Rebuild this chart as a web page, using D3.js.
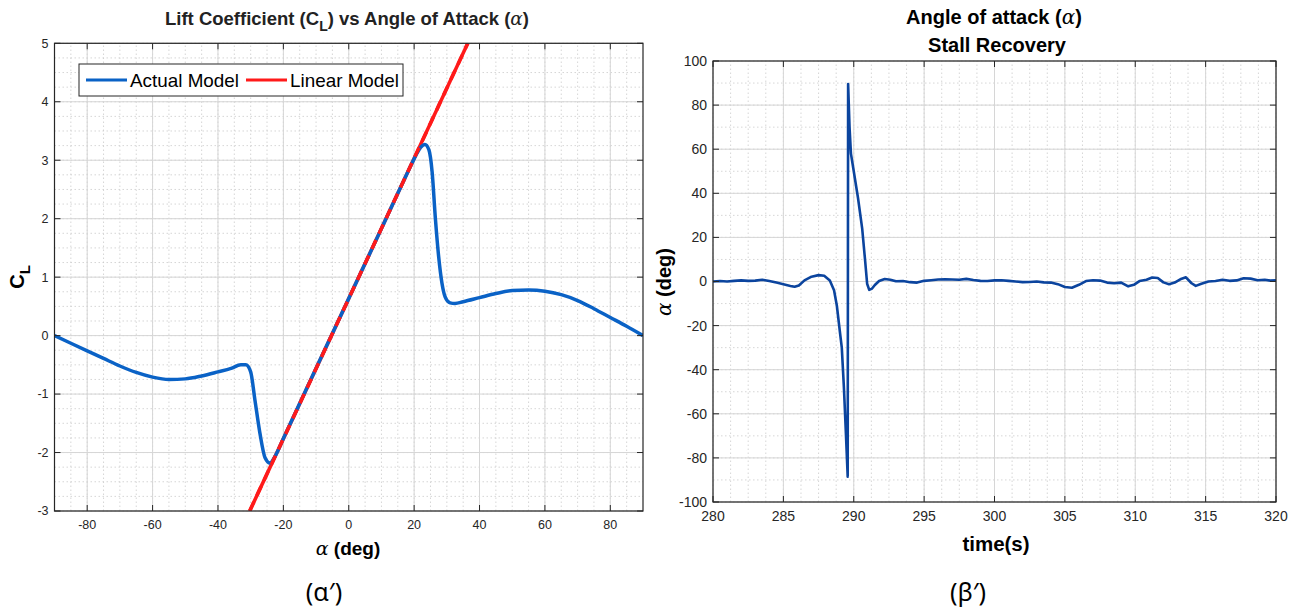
<!DOCTYPE html>
<html>
<head>
<meta charset="utf-8">
<script src="https://cdn.jsdelivr.net/npm/d3@7"></script>
<style>
  body { margin: 0; background: #fff; }
  svg { display: block; font-family: "Liberation Sans", Arial, sans-serif; }
  .grid-major { stroke: #d6d6d6; stroke-width: 1; }
  .grid-minor { stroke: #cccccc; stroke-width: 0.8; stroke-dasharray: 1.5,2.5; }
  .frame { fill: none; stroke: #262626; stroke-width: 1.2; }
  .tick-mark { stroke: #262626; stroke-width: 1; }
  .tick-label { fill: #262626; }
</style>
</head>
<body>
<svg width="1299" height="609"></svg>
<script>
// left chart: lift coefficient vs angle of attack
const alphaDeg = [-90, -85, -80, -75, -70, -65, -60, -55, -50, -45, -40, -36, -33, -31.5, -30, -28.7, -27.2, -25.6, -24.1, -22.5,
    -20, -10, 0, 10, 18, 20.5, 22, 23.3, 24.5, 25.5, 26.5, 27.5, 28.5, 29.5, 31, 32.5, 35, 40, 45, 50, 55, 60, 65, 70, 75, 80, 85, 90]
const clActual = [0, -0.13, -0.26, -0.39, -0.52, -0.63, -0.71, -0.75, -0.74, -0.69, -0.62, -0.56, -0.5, -0.5, -0.62, -1.1, -1.66, -2.09, -2.18, -2.06,
    -1.76, -0.56, 0.635, 1.83, 2.79, 3.08, 3.22, 3.27, 3.18, 2.8, 2.0, 1.35, 0.9, 0.66, 0.56, 0.55, 0.58, 0.65, 0.72, 0.77, 0.78, 0.76, 0.7, 0.6, 0.46, 0.31, 0.16, 0]
const linearAlpha = [-30.3, 36.4]
const linearCl = [-3, 5]
const legendLabels = ["Actual Model", "Linear Model"]

// right chart: angle of attack time history
const timeSec = [280, 280.5, 281, 281.5, 282, 282.5, 283, 283.5, 284, 284.5, 285, 285.5, 285.8, 286.1, 286.5, 287, 287.5, 287.9, 288.3, 288.6,
    288.8, 289, 289.15, 289.3, 289.45, 289.57, 289.6, 289.7, 289.8, 290, 290.3, 290.6, 290.8, 290.95, 291.1, 291.3, 291.5, 291.8, 292.2, 292.6,
    293, 293.5, 294, 294.5, 295, 295.5, 296, 296.5, 297, 297.5, 298, 298.5, 299, 299.5, 300, 300.5, 301, 301.5, 302, 302.5,
    303, 303.5, 304, 304.5, 305, 305.5, 306, 306.5, 307, 307.5, 308, 308.5, 309, 309.5, 309.9, 310.3, 310.8, 311.2, 311.6, 312,
    312.4, 312.8, 313.2, 313.6, 314, 314.3, 314.7, 315.2, 315.7, 316.2, 316.7, 317.2, 317.7, 318.2, 318.7, 319.2, 319.6, 320]
const aoaDeg = [0, 0.2, 0, 0.3, 0.5, 0.3, 0.4, 0.8, 0.2, -0.5, -1.2, -2, -2.4, -1.8, 0.5, 2.2, 2.9, 2.6, 0.5, -4,
    -11, -22, -30, -48, -70, -88.5, 89.5, 70, 58, 50, 38, 24, 10, -1, -3.8, -3.2, -1.6, 0.2, 1.1, 0.8,
    0.1, 0.2, -0.3, -0.5, 0.3, 0.6, 0.9, 1, 0.9, 0.8, 1.2, 0.7, 0.3, 0.2, 0.5, 0.6, 0.3, 0, -0.3, -0.2,
    0, -0.4, -0.5, -1.2, -2.5, -2.8, -1.5, 0.2, 0.6, 0.4, -0.5, -0.8, -0.5, -2.2, -1.5, 0.2, 0.8, 1.8, 1.6, -0.4,
    -1.2, -0.5, 1, 1.9, -0.8, -2, -1, 0, 0.2, 0.8, 0.3, 0.5, 1.5, 1.3, 0.6, 0.8, 0.4, 0.6]

const svg = d3.select("svg")
svg.append("rect").attr("width", 1299).attr("height", 609).attr("fill", "#fff")

function drawFrame(x, y, xMajor, xMinor, yMajor, yMinor, clipId) {
    const [x0, x1] = x.range()
    const [y0, y1] = y.range()
    const g = svg.append("g")

    g.append("rect").attr("x", x0).attr("y", y1).attr("width", x1 - x0).attr("height", y0 - y1).attr("fill", "#fff")

    g.selectAll(".gxm").data(xMinor).enter().append("line").attr("class", "grid-minor")
        .attr("x1", d => x(d)).attr("x2", d => x(d)).attr("y1", y0).attr("y2", y1)
    g.selectAll(".gym").data(yMinor).enter().append("line").attr("class", "grid-minor")
        .attr("x1", x0).attr("x2", x1).attr("y1", d => y(d)).attr("y2", d => y(d))
    g.selectAll(".gxM").data(xMajor).enter().append("line").attr("class", "grid-major")
        .attr("x1", d => x(d)).attr("x2", d => x(d)).attr("y1", y0).attr("y2", y1)
    g.selectAll(".gyM").data(yMajor).enter().append("line").attr("class", "grid-major")
        .attr("x1", x0).attr("x2", x1).attr("y1", d => y(d)).attr("y2", d => y(d))

    svg.append("clipPath").attr("id", clipId)
        .append("rect").attr("x", x0).attr("y", y1).attr("width", x1 - x0).attr("height", y0 - y1)
    return g
}

function drawAxes(x, y, xMajor, yMajor, fontSize) {
    const [x0, x1] = x.range()
    const [y0, y1] = y.range()
    const g = svg.append("g")

    // ticks inside, on all four sides
    const tl = 6
    g.selectAll(".tb").data(xMajor).enter().append("line").attr("class", "tick-mark")
        .attr("x1", d => x(d)).attr("x2", d => x(d)).attr("y1", y0).attr("y2", y0 - tl)
    g.selectAll(".tt").data(xMajor).enter().append("line").attr("class", "tick-mark")
        .attr("x1", d => x(d)).attr("x2", d => x(d)).attr("y1", y1).attr("y2", y1 + tl)
    g.selectAll(".tl").data(yMajor).enter().append("line").attr("class", "tick-mark")
        .attr("x1", x0).attr("x2", x0 + tl).attr("y1", d => y(d)).attr("y2", d => y(d))
    g.selectAll(".tr").data(yMajor).enter().append("line").attr("class", "tick-mark")
        .attr("x1", x1).attr("x2", x1 - tl).attr("y1", d => y(d)).attr("y2", d => y(d))

    g.append("rect").attr("class", "frame")
        .attr("x", x0).attr("y", y1).attr("width", x1 - x0).attr("height", y0 - y1)

    g.selectAll(".xl").data(xMajor).enter().append("text").attr("class", "tick-label")
        .attr("x", d => x(d)).attr("y", y0 + fontSize + 5)
        .attr("text-anchor", "middle").attr("font-size", fontSize)
        .text(d => d)
    g.selectAll(".yl").data(yMajor).enter().append("text").attr("class", "tick-label")
        .attr("x", x0 - 6).attr("y", d => y(d)).attr("dy", "0.35em")
        .attr("text-anchor", "end").attr("font-size", fontSize)
        .text(d => d)
}

const alphaSpan = '<tspan font-family="DejaVu Serif" font-style="italic" font-weight="normal">α</tspan>'

// ---------- left chart ----------
const xL = d3.scaleLinear().domain([-90, 90]).range([54.5, 643])
const yL = d3.scaleLinear().domain([-3, 5]).range([511, 43.3])

drawFrame(xL, yL, d3.range(-80, 81, 20), d3.range(-85, 90, 5), d3.range(-3, 5.01, 1), d3.range(-3, 5.01, 0.25), "clipL")

const lineL = d3.line().x(d => xL(d[0])).y(d => yL(d[1]))
const actualPts = alphaDeg.map((a, i) => [a, clActual[i]])
const linearPts = linearAlpha.map((a, i) => [a, linearCl[i]])

const plotL = svg.append("g").attr("clip-path", "url(#clipL)")
plotL.append("path").datum(linearPts).attr("d", lineL)
    .attr("fill", "none").attr("stroke", "#ff1a1a").attr("stroke-width", 3.5)
plotL.append("path").datum(actualPts).attr("d", lineL.curve(d3.curveMonotoneX))
    .attr("fill", "none").attr("stroke", "#0a62c6").attr("stroke-width", 3.5).attr("stroke-linejoin", "round")
plotL.append("path").datum(linearPts).attr("d", lineL.curve(d3.curveLinear))
    .attr("fill", "none").attr("stroke", "#ff1a1a").attr("stroke-width", 3.5).attr("stroke-dasharray", "10,7")

drawAxes(xL, yL, d3.range(-80, 81, 20), d3.range(-3, 5.01, 1), 12.5)

// legend
const leg = svg.append("g")
leg.append("rect").attr("x", 79).attr("y", 64).attr("width", 324).attr("height", 32)
    .attr("fill", "#fff").attr("stroke", "#262626").attr("stroke-width", 1)
const legColors = ["#0a62c6", "#ff1a1a"]
const legX = [86, 246]
legendLabels.forEach((lab, i) => {
    leg.append("line").attr("x1", legX[i]).attr("x2", legX[i] + 41).attr("y1", 80).attr("y2", 80)
        .attr("stroke", legColors[i]).attr("stroke-width", 3)
    leg.append("text").attr("x", legX[i] + 44).attr("y", 87).attr("font-size", 19).attr("fill", "#000")
        .attr("textLength", 109).attr("lengthAdjust", "spacingAndGlyphs")
        .text(lab)
})

// titles and labels
svg.append("text").attr("x", 347).attr("y", 25).attr("text-anchor", "middle")
    .attr("font-size", 18.5).attr("font-weight", "bold").attr("fill", "#222")
    .html('Lift Coefficient (C<tspan dy="6" font-size="14">L</tspan><tspan dy="-6">) vs Angle of Attack (</tspan>' + alphaSpan + ')')

svg.append("text").attr("transform", "translate(24,277) rotate(-90)").attr("text-anchor", "middle")
    .attr("font-size", 20).attr("font-weight", "bold").attr("fill", "#000")
    .html('C<tspan dy="6" font-size="15">L</tspan>')

svg.append("text").attr("x", 348).attr("y", 555).attr("text-anchor", "middle")
    .attr("font-size", 19).attr("font-weight", "bold").attr("fill", "#000")
    .html(alphaSpan + ' (deg)')

// ---------- right chart ----------
const xR = d3.scaleLinear().domain([280, 320]).range([713, 1276])
const yR = d3.scaleLinear().domain([-100, 100]).range([502, 61])

drawFrame(xR, yR, d3.range(280, 321, 5), d3.range(280, 320.01, 1.25), d3.range(-100, 101, 20), d3.range(-100, 101, 10), "clipR")

const lineR = d3.line().x(d => xR(d[0])).y(d => yR(d[1]))
svg.append("g").attr("clip-path", "url(#clipR)")
    .append("path").datum(timeSec.map((t, i) => [t, aoaDeg[i]])).attr("d", lineR)
    .attr("fill", "none").attr("stroke", "#0b449e").attr("stroke-width", 2.6).attr("stroke-linejoin", "round")

drawAxes(xR, yR, d3.range(280, 321, 5), d3.range(-100, 101, 20), 14)

svg.append("text").attr("x", 994).attr("y", 24).attr("text-anchor", "middle")
    .attr("font-size", 20).attr("font-weight", "bold").attr("fill", "#000")
    .html('Angle of attack (' + alphaSpan + ')')
svg.append("text").attr("x", 997).attr("y", 52).attr("text-anchor", "middle")
    .attr("font-size", 20).attr("font-weight", "bold").attr("fill", "#000")
    .text("Stall Recovery")

svg.append("text").attr("transform", "translate(671,282) rotate(-90)").attr("text-anchor", "middle")
    .attr("font-size", 20).attr("font-weight", "bold").attr("fill", "#000")
    .html(alphaSpan + ' (deg)')

svg.append("text").attr("x", 996).attr("y", 551).attr("text-anchor", "middle")
    .attr("font-size", 20.5).attr("font-weight", "bold").attr("fill", "#000")
    .text("time(s)")

// captions
svg.append("text").attr("x", 324).attr("y", 601).attr("text-anchor", "middle")
    .attr("font-size", 25).attr("font-family", "Noto Sans").attr("fill", "#000")
    .text("(α′)")
svg.append("text").attr("x", 968).attr("y", 601).attr("text-anchor", "middle")
    .attr("font-size", 25).attr("font-family", "Noto Sans").attr("fill", "#000")
    .text("(β′)")
</script>
</body>
</html>
